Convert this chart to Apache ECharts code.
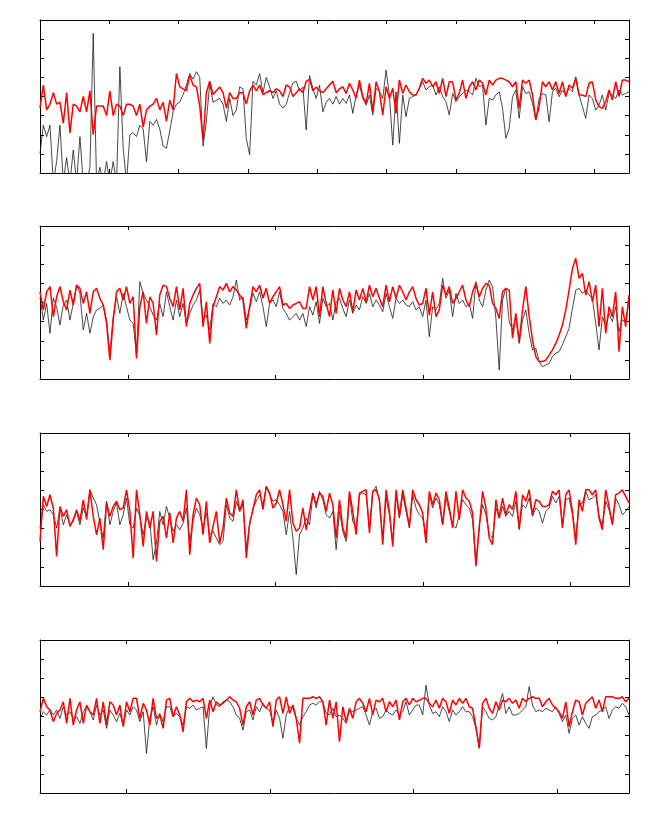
<!DOCTYPE html>
<html>
<head>
<meta charset="utf-8">
<script src="https://cdn.jsdelivr.net/npm/echarts@6/dist/echarts.min.js"></script>
<style>html,body{margin:0;padding:0;background:#fff}#c{width:668px;height:827px}</style>
</head>
<body>
<div id="c"></div>
<script>
// x-axis extents and tick positions of the four panels
const xMax = [850, 800, 800, 820];
const xTicks = [
  [100, 200, 300, 400, 500, 600, 700, 800],
  [120, 320, 520, 720],
  [120, 320, 520, 720],
  [120, 320, 520, 720]
];
const yMin = 0, yMax = 8, yStep = 1;

// panel 1
const black1 = [1.0,2.5,1.9,2.5,-0.5,0.6,2.5,-0.5,0.8,-0.5,
1.2,-0.5,1.9,-0.5,-0.5,0.3,7.3,-0.5,0.3,-0.5,
0.6,-0.5,0.6,-0.5,5.55,1.3,-0.5,2.0,2.1,1.9,
2.5,2.3,0.6,2.7,2.5,2.8,2.3,1.4,1.3,2.2,
3.2,3.6,3.7,4.1,4.6,5.2,4.9,5.3,5.0,1.4,
2.7,4.7,3.7,3.8,3.9,3.6,2.7,3.9,3.0,3.3,
4.5,4.4,1.8,0.95,4.8,4.6,5.2,4.2,5.0,4.5,
3.9,4.3,3.6,3.4,3.6,4.2,4.7,4.8,4.3,4.5,
2.25,5.1,4.4,3.9,4.6,3.2,3.7,3.9,3.6,4.0,3.6,
3.9,3.64,4.08,3.12,4.08,4.6,3.9,3.55,4.08,3.03,
4.43,4.25,3.9,5.38,4.08,1.46,4.25,1.55,4.08,2.94,
3.9,3.99,4.08,4.43,4.77,4.34,4.51,4.6,4.08,4.51,
3.99,3.73,3.03,4.16,3.73,3.99,4.16,4.34,4.25,4.08,
4.95,4.51,4.6,2.51,3.9,3.82,4.08,4.25,3.38,1.81,
2.33,3.99,4.34,2.86,4.51,4.16,4.25,3.64,2.77,3.9,
4.16,4.08,2.68,4.25,4.43,3.99,4.34,4.08,4.43,4.25,
5.03,4.08,3.47,2.86,4.08,3.9,3.29,3.55,4.08,3.29,
4.16,4.08,3.9,4.34,4.08,4.16,4.25];
const red1 = [3.4,4.6,3.3,3.6,4.2,3.6,3.7,2.6,4.2,2.1,
3.6,3.5,3.2,4.0,3.2,4.3,2.0,3.5,3.5,3.5,
3.0,4.3,3.0,3.6,3.5,3.0,3.6,3.6,3.5,3.0,
3.6,2.4,3.3,3.5,3.6,3.9,3.3,3.7,2.7,3.8,
3.3,5.2,4.5,4.4,4.3,5.1,4.6,4.5,3.5,1.7,
4.2,4.8,4.1,4.3,4.5,4.2,3.4,4.2,3.9,3.9,
4.2,4.2,3.6,4.3,4.6,4.3,4.6,4.1,4.2,4.3,
4.2,4.4,4.3,4.0,4.6,4.5,4.0,4.2,4.4,4.2,
4.8,4.9,4.3,4.5,4.3,4.2,4.4,4.6,4.8,4.2,4.4,
4.51,4.16,4.69,4.34,3.9,4.86,3.99,3.64,4.69,3.2,
4.77,4.25,3.03,4.51,3.9,4.43,3.12,4.86,4.16,4.6,
4.25,4.08,4.08,4.43,4.95,4.69,4.86,4.51,4.77,4.16,
4.95,3.99,4.77,4.77,3.82,4.16,4.86,3.9,4.51,4.77,
4.34,4.86,4.69,4.08,4.86,4.6,4.86,4.95,4.95,4.86,
4.77,4.51,4.77,3.38,4.86,4.69,4.86,4.08,2.77,3.47,
4.77,4.51,4.77,4.34,4.77,4.16,4.77,3.99,4.6,4.43,
4.95,4.08,4.08,3.99,4.69,4.77,3.82,3.47,3.38,3.73,
4.34,3.82,4.77,3.99,4.86,4.86,4.77];

// panel 2
const black2 = [4.30,3.08,3.95,2.39,4.22,3.78,2.82,3.87,4.13,3.08,
3.95,4.91,4.48,2.56,3.43,2.39,3.26,3.61,3.69,3.87,
3.08,1.34,3.26,4.30,3.43,4.48,3.78,3.08,2.91,1.25,
5.09,4.48,4.13,3.78,3.34,3.08,3.95,3.26,4.56,3.78,
3.08,4.13,3.26,3.95,2.91,3.43,3.87,4.13,4.65,3.08,
3.34,2.56,3.95,3.78,4.22,3.95,4.13,3.87,4.30,5.17,
4.13,4.30,3.08,3.69,4.48,4.04,4.56,3.78,2.74,3.95,
4.13,3.78,4.56,3.69,3.43,3.08,3.26,3.43,3.08,3.43,
2.74,3.78,3.34,4.04,2.91,4.22,3.78,3.95,3.08,4.04,4.22,
3.69,3.26,4.13,3.43,3.87,3.61,4.30,3.95,4.48,3.78,
4.13,3.87,3.52,4.48,3.78,3.17,4.22,3.95,4.13,3.87,
3.78,4.04,3.61,3.78,3.26,4.13,2.21,3.78,3.61,3.95,
5.26,4.22,4.65,3.26,4.48,3.95,4.13,3.78,3.95,3.17,
5.09,4.13,3.78,4.65,5.17,4.83,3.17,0.47,4.13,4.74,
3.0,2.56,3.26,1.86,3.08,3.61,2.39,1.52,1.60,0.91,
0.64,0.73,0.82,1.17,1.34,1.43,1.78,2.21,2.65,3.69,
4.65,4.74,4.48,4.65,4.39,4.22,2.91,1.52,3.26,2.74,
3.43,3.0,3.78,2.47,3.08,3.0,4.13];
const red2 = [4.56,3.61,4.56,4.83,3.26,4.30,4.83,4.04,3.61,4.65,
3.87,4.91,4.74,3.95,4.56,3.43,4.56,4.74,4.22,3.87,
2.91,0.99,3.08,4.56,4.74,4.13,4.83,3.95,4.30,1.08,
3.78,4.56,2.91,4.30,3.95,2.30,4.39,4.91,4.83,4.22,
3.78,4.83,3.61,4.74,2.74,3.95,4.39,4.74,5.0,2.74,
4.04,1.86,3.78,4.30,4.83,4.65,5.0,4.56,4.83,4.65,
4.39,4.13,2.65,3.78,4.83,4.56,4.91,4.22,4.74,3.95,
4.30,4.56,4.83,3.87,3.95,3.69,3.87,3.95,4.04,3.69,
3.69,4.83,4.13,4.83,3.26,4.83,3.95,3.26,4.65,3.43,4.74,
4.13,3.78,4.56,3.52,4.65,4.13,4.74,4.04,4.91,4.30,
4.74,4.22,3.78,4.91,4.04,4.83,4.22,4.91,4.56,4.13,
4.56,4.83,4.22,3.87,3.95,4.74,3.34,4.56,3.26,3.61,
4.91,4.39,4.83,3.95,4.22,4.56,4.91,4.13,3.78,4.56,
5.0,4.30,4.74,5.0,4.91,3.95,3.69,3.17,4.56,4.74,
4.65,2.13,3.43,1.95,3.61,4.83,3.26,2.04,1.17,0.91,
0.91,0.99,1.25,1.52,1.86,2.30,2.82,3.61,4.65,5.78,
6.31,5.26,5.52,4.39,5.09,4.04,4.91,2.74,4.74,2.39,
3.78,3.26,4.56,1.43,3.78,2.74,4.39];

// panel 3
const black3 = [3.03,4.25,3.90,3.99,3.73,3.03,4.08,3.20,3.73,3.20,
3.38,3.90,3.20,4.08,3.64,5.03,4.60,4.25,3.29,2.51,
4.43,3.20,3.90,4.34,3.20,3.73,4.60,3.20,3.03,4.08,
3.64,2.68,3.55,3.38,1.38,2.25,3.90,3.20,4.16,3.55,
2.86,3.20,2.94,3.29,4.08,2.33,3.38,4.08,3.73,3.03,
3.82,2.68,2.86,2.51,2.16,2.33,4.25,3.55,3.38,4.43,
3.90,4.25,1.99,3.20,4.08,4.43,4.77,4.25,5.21,4.77,
4.43,4.51,4.25,3.90,2.68,3.90,2.51,0.59,2.68,3.03,
3.55,3.20,4.77,4.08,4.95,4.51,3.73,3.55,3.90,1.90,3.90,
2.86,2.33,4.77,3.38,3.03,4.77,4.86,4.77,3.03,4.95,
5.21,4.43,2.51,4.60,3.73,2.33,4.77,3.55,4.77,3.90,
3.03,4.77,4.08,3.73,3.55,2.68,4.77,4.08,4.60,4.25,
3.20,4.60,3.90,3.20,3.03,3.73,4.51,4.25,4.08,3.47,
1.11,3.20,4.25,3.73,2.68,2.51,4.08,3.55,4.16,3.64,
3.90,3.64,4.43,3.03,4.25,4.08,4.60,3.64,4.08,3.90,
3.29,3.90,4.08,4.69,4.34,4.69,3.20,4.51,4.60,3.73,
2.51,4.25,4.34,4.95,4.51,4.60,4.77,3.64,3.20,4.43,
3.99,3.29,4.60,4.25,3.73,3.90,4.16];
const red3 = [2.33,4.69,4.16,4.77,4.08,1.55,4.16,3.64,3.99,3.12,
3.47,3.99,3.38,4.51,3.47,5.03,3.64,2.68,3.55,1.90,
4.34,3.64,4.16,4.43,3.99,4.08,5.03,3.90,1.46,5.03,
3.73,2.07,3.90,3.03,3.90,1.29,3.38,3.64,2.51,3.82,
2.25,3.55,3.90,3.38,5.03,1.64,3.73,4.60,4.25,2.68,
4.43,2.25,3.12,3.90,2.25,3.03,4.60,3.82,3.64,5.03,
3.90,4.51,1.46,3.29,3.99,4.77,5.03,3.99,5.21,4.86,
4.08,4.34,5.03,4.25,3.38,5.03,3.29,2.86,3.03,4.08,
2.94,3.90,4.86,4.25,4.86,4.69,3.90,4.86,4.25,2.51,4.51,
3.03,2.51,4.95,3.90,2.68,4.86,4.95,5.03,2.77,4.95,
5.03,4.51,2.16,5.03,3.90,2.07,5.03,3.64,5.03,4.08,
3.12,5.03,4.51,4.25,3.82,2.25,4.95,4.25,4.86,4.51,
3.20,4.95,4.08,3.03,4.95,3.47,5.03,4.60,4.43,3.82,
1.03,3.03,4.95,4.08,2.51,2.16,4.51,3.55,4.60,3.73,
4.25,3.99,4.95,2.94,4.77,4.43,5.03,3.73,4.51,4.43,
4.16,4.16,4.25,4.95,4.77,5.03,3.03,4.77,5.03,3.90,
2.16,4.51,3.90,5.03,5.03,4.77,5.03,3.55,2.94,5.03,
4.16,3.20,4.77,4.86,5.03,4.69,4.34];

// panel 4
const black4 = [3.90,4.25,4.08,4.34,4.08,4.34,3.90,4.51,4.08,4.25,
3.90,3.99,3.64,4.25,4.51,4.25,3.82,4.60,4.08,4.34,
3.38,4.34,4.08,3.73,4.16,3.55,4.34,4.08,4.51,4.34,
3.73,4.25,2.07,3.90,4.51,3.55,4.16,3.73,4.51,4.51,
3.99,4.16,3.99,3.55,4.51,4.43,4.60,4.34,4.43,4.51,
2.33,4.51,5.03,4.60,4.51,4.77,4.86,4.77,4.51,4.08,
3.90,3.29,4.25,4.34,3.82,4.51,4.25,4.69,4.43,4.34,
3.64,4.34,3.90,2.86,4.08,4.51,4.43,3.90,3.55,3.99,
4.25,4.60,4.69,4.60,4.77,4.77,4.16,4.08,4.43,3.99,4.08,
3.90,3.64,4.34,4.25,4.34,4.43,4.51,4.08,3.55,4.25,
4.43,3.90,3.99,4.34,4.16,4.08,4.34,4.08,4.25,4.77,
4.08,4.34,4.60,4.60,4.08,5.64,4.60,4.16,4.25,3.99,
4.51,4.25,3.73,4.34,4.08,4.25,4.51,4.25,4.25,3.99,
3.38,2.42,4.51,4.25,3.90,3.82,3.99,4.60,5.21,4.16,
4.51,4.08,4.08,4.16,4.34,4.51,5.56,4.60,4.25,4.34,
4.25,4.43,4.34,4.25,4.51,4.16,3.73,4.08,3.12,3.90,
4.08,3.55,3.99,3.64,3.38,3.99,4.08,4.25,4.34,4.51,
3.90,4.34,4.51,4.43,4.69,4.51,4.08];
const red4 = [4.25,4.95,4.51,4.34,3.73,4.16,4.34,4.77,3.64,4.95,
3.55,4.34,4.77,3.64,4.60,4.25,4.08,4.95,3.64,4.77,
3.55,4.77,4.60,4.08,4.60,3.47,4.77,4.25,4.95,4.95,
3.90,4.69,4.34,3.55,4.95,3.90,4.08,3.38,4.86,4.95,
3.99,4.51,4.08,3.20,4.77,4.95,4.77,4.86,4.77,4.95,
3.90,4.86,4.25,4.77,4.60,4.69,4.86,5.03,4.86,4.77,
4.43,3.55,4.51,4.77,4.08,4.86,4.95,4.60,4.43,4.77,
3.47,4.86,5.03,4.16,5.03,4.16,4.60,3.90,2.60,4.95,
4.95,4.95,5.03,4.95,5.03,4.77,3.55,4.86,3.90,4.77,2.68,
4.51,3.73,4.43,3.90,4.77,4.95,4.69,4.25,4.95,4.08,
4.86,4.77,4.95,4.25,4.77,4.51,4.86,3.82,4.77,4.95,
4.60,4.95,4.77,4.86,4.95,4.95,4.69,4.51,4.86,4.43,
4.95,4.77,4.16,4.86,4.60,4.95,4.69,4.95,4.51,4.43,
3.47,2.33,4.69,4.95,4.43,4.16,4.77,4.34,4.86,4.77,
4.95,4.69,4.86,4.43,4.95,4.77,4.95,5.03,4.95,4.95,
4.51,4.77,4.95,4.60,4.43,4.25,3.90,4.77,3.47,4.25,
4.86,4.77,4.08,4.69,4.86,5.03,4.43,4.86,4.25,5.03,
5.03,5.03,4.95,4.95,5.03,4.77,4.95];

const blacks = [black1, black2, black3, black4];
const reds = [red1, red2, red3, red4];

const tops = [20, 226, 433, 640];
const grids = [], xAxes = [], yAxes = [], series = [];
const axColor = '#000';

function toXY(vals, xm) {
  const n = vals.length;
  return vals.map((v, k) => [k * xm / (n - 1), v]);
}

for (let i = 0; i < 4; i++) {
  grids.push({ left: 40, width: 589, top: tops[i], height: 153, containLabel: false });
  ['bottom', 'top'].forEach(pos => {
    xAxes.push({
      gridIndex: i, type: 'value', position: pos, min: 0, max: xMax[i],
      axisLine: { show: true, onZero: false, lineStyle: { color: axColor, width: 1 } },
      axisTick: { show: true, inside: true, length: 4, customValues: xTicks[i], lineStyle: { color: axColor, width: 1 } },
      axisLabel: { show: false, customValues: xTicks[i] },
      splitLine: { show: false }
    });
  });
  ['left', 'right'].forEach(pos => {
    yAxes.push({
      gridIndex: i, type: 'value', position: pos, min: yMin, max: yMax, interval: yStep,
      axisLine: { show: true, onZero: false, lineStyle: { color: axColor, width: 1 } },
      axisTick: { show: true, inside: true, length: 4, lineStyle: { color: axColor, width: 1 } },
      axisLabel: { show: false },
      splitLine: { show: false }
    });
  });
  series.push({
    type: 'line', xAxisIndex: i * 2, yAxisIndex: i * 2, data: toXY(blacks[i], xMax[i]),
    showSymbol: false, symbol: 'none', clip: true, z: 2,
    lineStyle: { color: '#1a1a1a', width: 0.8 }
  });
  series.push({
    type: 'line', xAxisIndex: i * 2, yAxisIndex: i * 2, data: toXY(reds[i], xMax[i]),
    showSymbol: false, symbol: 'none', clip: true, z: 3,
    lineStyle: { color: '#ff0000', width: 1.5 }
  });
}

const chart = echarts.init(document.getElementById('c'), null, { renderer: 'canvas' });
chart.setOption({
  animation: false,
  backgroundColor: '#fff',
  grid: grids,
  xAxis: xAxes,
  yAxis: yAxes,
  series: series
});
</script>
</body>
</html>
